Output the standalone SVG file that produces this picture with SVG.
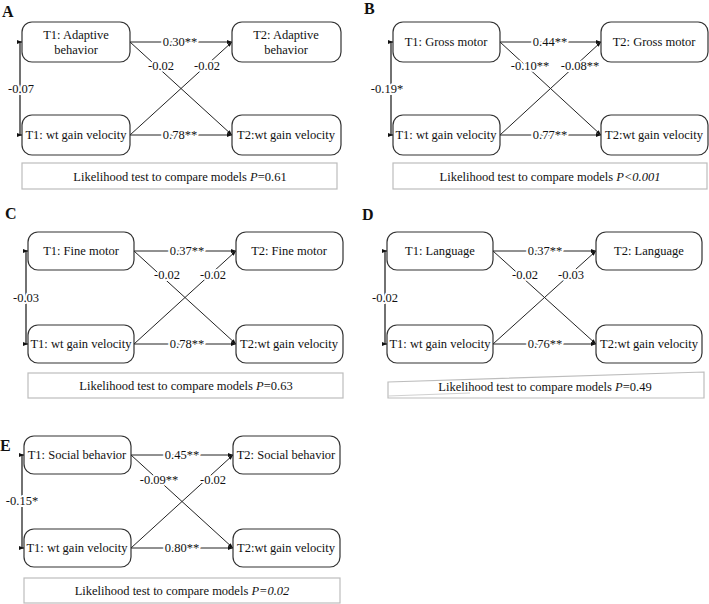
<svg xmlns="http://www.w3.org/2000/svg" width="709" height="604" viewBox="0 0 709 604">
<style>
.bg{fill:#fff}
.box{fill:#fff;stroke:#333;stroke-width:1.2}
.lk{fill:#fff;stroke:#bdbdbd;stroke-width:1.2}
.t{font-family:"Liberation Serif","Times New Roman",serif;font-size:12.5px;text-anchor:middle;fill:#111}
.lab{font-family:"Liberation Serif","Times New Roman",serif;font-size:12.5px;text-anchor:middle;fill:#111;stroke:#fff;stroke-width:4;paint-order:stroke;stroke-linejoin:round}
.pl{font-family:"Liberation Serif","Times New Roman",serif;font-size:16px;font-weight:bold;fill:#111}
.arr{fill:none;stroke:#222;stroke-width:1;marker-end:url(#ah)}
.br{fill:none;stroke:#444;stroke-width:1.5;marker-start:url(#ahs);marker-end:url(#ah)}
</style>
<defs>
<marker id="ah" markerWidth="5" markerHeight="4" refX="5" refY="2" orient="auto" markerUnits="userSpaceOnUse"><path d="M0,0 L5,2 L0,4 z" fill="#111"/></marker>
<marker id="ahs" markerWidth="5" markerHeight="4" refX="5" refY="2" orient="auto-start-reverse" markerUnits="userSpaceOnUse"><path d="M0,0 L5,2 L0,4 z" fill="#111"/></marker>
</defs>
<rect class="bg" width="709" height="604"/>

<!-- Panel labels -->
<text class="pl" x="2" y="17">A</text>
<text class="pl" x="364" y="14">B</text>
<text class="pl" x="5" y="219">C</text>
<text class="pl" x="362" y="220">D</text>
<text class="pl" x="0" y="451">E</text>

<!-- Connectors -->
<g id="connectors">
  <!-- A -->
  <path class="br" d="M22,42 H20 V135 H22"/>
  <path class="arr" d="M130,42 H232"/>
  <path class="arr" d="M130,135 H232"/>
  <path class="arr" d="M130,42 L232,135"/>
  <path class="arr" d="M130,135 L232,42"/>
  <!-- B -->
  <path class="br" d="M393,42 H391 V135 H393"/>
  <path class="arr" d="M500,42 H601"/>
  <path class="arr" d="M500,135 H601"/>
  <path class="arr" d="M500,42 L601,135"/>
  <path class="arr" d="M500,135 L601,42"/>
  <!-- C -->
  <path class="br" d="M28,251 H26 V344 H28"/>
  <path class="arr" d="M134,251 H236"/>
  <path class="arr" d="M134,344 H236"/>
  <path class="arr" d="M134,251 L236,344"/>
  <path class="arr" d="M134,344 L236,251"/>
  <!-- D -->
  <path class="br" d="M387,251 H385 V344 H387"/>
  <path class="arr" d="M493,251 H596"/>
  <path class="arr" d="M493,344 H596"/>
  <path class="arr" d="M493,251 L596,344"/>
  <path class="arr" d="M493,344 L596,251"/>
  <!-- E -->
  <path class="br" d="M24,455 H22 V548 H24"/>
  <path class="arr" d="M131,455 H233"/>
  <path class="arr" d="M131,548 H233"/>
  <path class="arr" d="M131,455 L233,548"/>
  <path class="arr" d="M131,548 L233,455"/>
</g>

<!-- Connector labels -->
<g id="connector-labels">
  <text class="lab" x="21" y="93">-0.07</text>
  <text class="lab" x="180" y="46">0.30**</text>
  <text class="lab" x="161" y="70">-0.02</text>
  <text class="lab" x="207" y="70">-0.02</text>
  <text class="lab" x="180" y="139">0.78**</text>

  <text class="lab" x="387" y="93">-0.19*</text>
  <text class="lab" x="550" y="46">0.44**</text>
  <text class="lab" x="530" y="70">-0.10**</text>
  <text class="lab" x="580" y="70">-0.08**</text>
  <text class="lab" x="550" y="139">0.77**</text>

  <text class="lab" x="26" y="302">-0.03</text>
  <text class="lab" x="187" y="255">0.37**</text>
  <text class="lab" x="167" y="279">-0.02</text>
  <text class="lab" x="213" y="279">-0.02</text>
  <text class="lab" x="187" y="348">0.78**</text>

  <text class="lab" x="385" y="302">-0.02</text>
  <text class="lab" x="545" y="255">0.37**</text>
  <text class="lab" x="525" y="279">-0.02</text>
  <text class="lab" x="571" y="279">-0.03</text>
  <text class="lab" x="545" y="348">0.76**</text>

  <text class="lab" x="22" y="505">-0.15*</text>
  <text class="lab" x="182" y="459">0.45**</text>
  <text class="lab" x="159" y="484">-0.09**</text>
  <text class="lab" x="213" y="484">-0.02</text>
  <text class="lab" x="182" y="552">0.80**</text>
</g>

<!-- Panel A nodes -->
<g id="A-t1-adaptive"><rect class="box" x="22" y="22" width="108" height="40" rx="10"/><text class="t" x="76" y="39">T1: Adaptive</text><text class="t" x="76" y="54">behavior</text></g>
<g id="A-t2-adaptive"><rect class="box" x="232" y="22" width="109" height="40" rx="10"/><text class="t" x="286" y="39">T2: Adaptive</text><text class="t" x="286" y="54">behavior</text></g>
<g id="A-t1-wt"><rect class="box" x="22" y="115" width="108" height="40" rx="10"/><text class="t" x="76" y="139">T1: wt gain velocity</text></g>
<g id="A-t2-wt"><rect class="box" x="232" y="115" width="109" height="40" rx="10"/><text class="t" x="286" y="139">T2:wt gain velocity</text></g>
<g id="A-lik"><rect class="lk" x="22" y="163" width="315" height="26"/><text class="t" x="180" y="181">Likelihood test to compare models <tspan font-style="italic">P</tspan>=0.61</text></g>

<!-- Panel B nodes -->
<g id="B-t1-gross"><rect class="box" x="393" y="22" width="107" height="40" rx="10"/><text class="t" x="446" y="46">T1: Gross motor</text></g>
<g id="B-t2-gross"><rect class="box" x="601" y="22" width="107" height="40" rx="10"/><text class="t" x="654" y="46">T2: Gross motor</text></g>
<g id="B-t1-wt"><rect class="box" x="393" y="115" width="107" height="40" rx="10"/><text class="t" x="446" y="139">T1: wt gain velocity</text></g>
<g id="B-t2-wt"><rect class="box" x="601" y="115" width="107" height="40" rx="10"/><text class="t" x="654" y="139">T2:wt gain velocity</text></g>
<g id="B-lik"><rect class="lk" x="393" y="163" width="314" height="26"/><text class="t" x="550" y="181">Likelihood test to compare models <tspan font-style="italic">P&lt;0.001</tspan></text></g>

<!-- Panel C nodes -->
<g id="C-t1-fine"><rect class="box" x="28" y="232" width="106" height="38" rx="10"/><text class="t" x="81" y="255">T1: Fine motor</text></g>
<g id="C-t2-fine"><rect class="box" x="236" y="232" width="107" height="38" rx="10"/><text class="t" x="289" y="255">T2: Fine motor</text></g>
<g id="C-t1-wt"><rect class="box" x="28" y="325" width="106" height="38" rx="10"/><text class="t" x="81" y="348">T1: wt gain velocity</text></g>
<g id="C-t2-wt"><rect class="box" x="236" y="325" width="107" height="38" rx="10"/><text class="t" x="289" y="348">T2:wt gain velocity</text></g>
<g id="C-lik"><rect class="lk" x="28" y="373" width="315" height="25"/><text class="t" x="186" y="390">Likelihood test to compare models <tspan font-style="italic">P</tspan>=0.63</text></g>

<!-- Panel D nodes -->
<g id="D-t1-lang"><rect class="box" x="387" y="232" width="106" height="38" rx="10"/><text class="t" x="440" y="255">T1: Language</text></g>
<g id="D-t2-lang"><rect class="box" x="596" y="232" width="106" height="38" rx="10"/><text class="t" x="649" y="255">T2: Language</text></g>
<g id="D-t1-wt"><rect class="box" x="387" y="325" width="106" height="38" rx="10"/><text class="t" x="440" y="348">T1: wt gain velocity</text></g>
<g id="D-t2-wt"><rect class="box" x="596" y="325" width="106" height="38" rx="10"/><text class="t" x="649" y="348">T2:wt gain velocity</text></g>
<g id="D-lik"><polygon class="lk" points="388,382 704,372 704,398 388,398"/><path d="M388,396 L470,393" fill="none" stroke="#d0d0d0" stroke-width="1"/><text class="t" x="545" y="391">Likelihood test to compare models <tspan font-style="italic">P</tspan>=0.49</text></g>

<!-- Panel E nodes -->
<g id="E-t1-social"><rect class="box" x="24" y="436" width="107" height="38" rx="10"/><text class="t" x="77" y="459">T1: Social behavior</text></g>
<g id="E-t2-social"><rect class="box" x="233" y="436" width="107" height="38" rx="10"/><text class="t" x="286" y="459">T2: Social behavior</text></g>
<g id="E-t1-wt"><rect class="box" x="24" y="529" width="107" height="38" rx="10"/><text class="t" x="77" y="552">T1: wt gain velocity</text></g>
<g id="E-t2-wt"><rect class="box" x="233" y="529" width="107" height="38" rx="10"/><text class="t" x="286" y="552">T2:wt gain velocity</text></g>
<g id="E-lik"><rect class="lk" x="24" y="578" width="316" height="25"/><text class="t" x="182" y="595">Likelihood test to compare models <tspan font-style="italic">P=0.02</tspan></text></g>
</svg>
